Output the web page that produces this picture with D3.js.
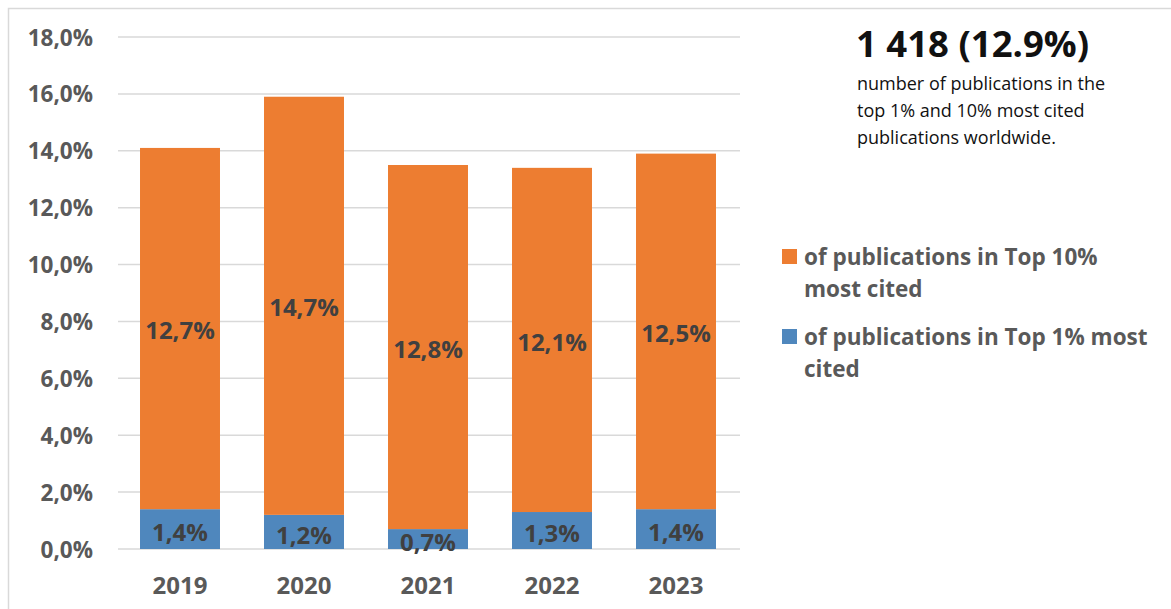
<!DOCTYPE html>
<html>
<head>
<meta charset="utf-8">
<script src="https://cdn.jsdelivr.net/npm/d3@7"></script>
<style>
  html, body { margin: 0; padding: 0; background: #fff; }
  svg { display: block; font-family: "Open Sans", "Noto Sans", sans-serif; }
</style>
</head>
<body>
<svg id="chart" width="1171" height="609"></svg>
<script>
// Share of publications among the most cited worldwide, by year
const years = ["2019", "2020", "2021", "2022", "2023"];
const top1 = [1.4, 1.2, 0.7, 1.3, 1.4];
const top10 = [12.7, 14.7, 12.8, 12.1, 12.5];
const yTicks = [0, 2, 4, 6, 8, 10, 12, 14, 16, 18];
const headline = "1 418 (12.9%)";
const noteLines = ["number of publications in the", "top 1% and 10% most cited", "publications worldwide."];

const colors = { top10: "#ED7D31", top1: "#4F87BD" };
const svg = d3.select("#chart");

// outer frame
svg.append("rect")
  .attr("x", 8.5).attr("y", 8.5)
  .attr("width", 1200).attr("height", 700)
  .attr("fill", "none").attr("stroke", "#d9d9d9").attr("stroke-width", 1.5);

const plot = { left: 118, right: 738, top: 37, bottom: 549 };

const x = d3.scaleBand().domain(years).range([plot.left, plot.right]).paddingInner(0.355).paddingOuter(0.1775);
const y = d3.scaleLinear().domain([0, 18]).range([plot.bottom, plot.top]);

const fmt = v => d3.format(".1f")(v).replace(".", ",") + "%";

// gridlines
svg.append("g").selectAll("line").data(yTicks).join("line")
  .attr("x1", plot.left).attr("x2", plot.right + 2)
  .attr("y1", d => y(d)).attr("y2", d => y(d))
  .attr("stroke", "#d9d9d9").attr("stroke-width", 1.5);

// y axis labels
const yAxis = d3.axisLeft(y).tickValues(yTicks).tickFormat(fmt).tickSize(0).tickPadding(0);
const gy = svg.append("g").attr("transform", "translate(93,0)").call(yAxis);
gy.select(".domain").remove();
gy.selectAll("text")
  .attr("font-family", "'Open Sans', sans-serif")
  .attr("font-size", 22.5).attr("font-weight", 700).attr("fill", "#595959")
  .attr("dy", "0.36em");

// x axis labels
const xAxis = d3.axisBottom(x).tickSize(0).tickPadding(0);
const gx = svg.append("g").attr("transform", `translate(0,${plot.bottom})`).call(xAxis);
gx.select(".domain").remove();
gx.selectAll("text")
  .attr("font-family", "'Open Sans', sans-serif")
  .attr("font-size", 24).attr("font-weight", 700).attr("fill", "#595959")
  .attr("y", 45).attr("dy", 0);

const rows = years.map((yr, i) => ({ yr, a: top1[i], b: top10[i] }));

// bottom segment: top 1%
svg.append("g").selectAll("rect").data(rows).join("rect")
  .attr("x", d => x(d.yr)).attr("width", x.bandwidth())
  .attr("y", d => y(d.a)).attr("height", d => y(0) - y(d.a))
  .attr("fill", colors.top1);

// upper segment: top 10%
svg.append("g").selectAll("rect").data(rows).join("rect")
  .attr("x", d => x(d.yr)).attr("width", x.bandwidth())
  .attr("y", d => y(d.a + d.b)).attr("height", d => y(d.a) - y(d.a + d.b))
  .attr("fill", colors.top10);

// value labels centred in each segment
const labelStyle = s => s
  .attr("text-anchor", "middle").attr("dy", "0.36em")
  .attr("font-family", "'Open Sans', sans-serif")
  .attr("font-size", 24).attr("font-weight", 700).attr("fill", "#404040");

svg.append("g").selectAll("text").data(rows).join("text")
  .attr("x", d => x(d.yr) + x.bandwidth() / 2)
  .attr("y", d => y(d.a / 2) + 3)
  .text(d => fmt(d.a)).call(labelStyle);

svg.append("g").selectAll("text").data(rows).join("text")
  .attr("x", d => x(d.yr) + x.bandwidth() / 2)
  .attr("y", d => y(d.a + d.b / 2) + 2)
  .text(d => fmt(d.b)).call(labelStyle);

// legend
const legendItems = [
  { color: colors.top10, lines: ["of publications in Top 10%", "most cited"], top: 249 },
  { color: colors.top1, lines: ["of publications in Top 1% most", "cited"], top: 329 }
];
const lg = svg.append("g");
legendItems.forEach(item => {
  lg.append("rect").attr("x", 782).attr("y", item.top).attr("width", 15).attr("height", 15).attr("fill", item.color);
  item.lines.forEach((t, j) => {
    lg.append("text")
      .attr("x", 804).attr("y", item.top + 16 + j * 32)
      .attr("font-family", "'Open Sans', sans-serif")
      .attr("font-size", 22.5).attr("font-weight", 700).attr("fill", "#595959")
      .text(t);
  });
});

// headline note
svg.append("text")
  .attr("x", 856).attr("y", 57)
  .attr("font-family", "'Open Sans', sans-serif")
  .attr("font-size", 36.5).attr("font-weight", 700).attr("fill", "#111")
  .text(headline);

svg.append("g").selectAll("text").data(noteLines).join("text")
  .attr("x", 857).attr("y", (d, i) => 90 + i * 27)
  .attr("font-family", "'Open Sans', sans-serif")
  .attr("font-size", 18).attr("fill", "#111")
  .text(d => d);
</script>
</body>
</html>
